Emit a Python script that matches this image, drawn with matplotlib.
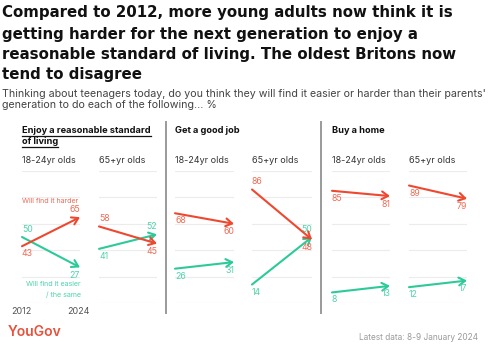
import matplotlib
matplotlib.use("Agg")
import matplotlib.pyplot as plt
from matplotlib.lines import Line2D

# ---------------- data ----------------
title_lines = ["Compared to 2012, more young adults now think it is",
               "getting harder for the next generation to enjoy a",
               "reasonable standard of living. The oldest Britons now",
               "tend to disagree"]
subtitle_lines = ["Thinking about teenagers today, do you think they will find it easier or harder than their parents'",
                  "generation to do each of the following... %"]
panel_titles = ["Enjoy a reasonable standard", "Get a good job", "Buy a home"]
panel_title_2nd = ["of living", "", ""]
groups = ["18-24yr olds", "65+yr olds"]
years = ["2012", "2024"]
harder_2012 = [43, 58, 68, 86, 85, 89]
harder_2024 = [65, 45, 60, 48, 81, 79]
easier_2012 = [50, 41, 26, 14, 8, 12]
easier_2024 = [27, 52, 31, 50, 13, 17]
# label placement (+1 above, -1 below)
harder_start_pos = [-1, 1, -1, 1, -1, -1]
harder_end_pos = [1, -1, -1, -1, -1, -1]
easier_start_pos = [1, -1, -1, -1, -1, -1]
easier_end_pos = [-1, 1, -1, 1, -1, -1]
harder_label = "Will find it harder"
easier_label = ["Will find it easier", "/ the same"]
source = "Latest data: 8-9 January 2024"
brand = "YouGov"

RED = "#F0472F"
RED_T = "#EE6C58"
GREEN = "#2DCA99"
GREEN_T = "#4FD3AC"
GRID = "#ECECEC"

W, H = 488, 352
plt.rcParams['font.family'] = ['Inter', 'DejaVu Sans']
fig = plt.figure(figsize=(W / 100, H / 100), dpi=100)
renderer = fig.canvas.get_renderer()


def fx(x):
    return x / W


def fy(y):
    return 1 - y / H


def fit(t, width_px):
    bb = t.get_window_extent(renderer)
    t.set_fontsize(t.get_fontsize() * width_px / bb.width)
    return t


def text(x, y, s, width=None, size=8, **kw):
    t = fig.text(fx(x), fy(y), s, fontsize=size, **kw)
    if width:
        fit(t, width)
    return t


# title
title_base = [17.5, 38.5, 59, 79.5]
for i, (line, yb) in enumerate(zip(title_lines, title_base)):
    t = text(2, yb, line, size=11, fontweight='bold', va='baseline', color='#111111',
             family=['DejaVu Sans'])
    if i == 0:
        fit(t, 450)
        tsize = t.get_fontsize()
    else:
        t.set_fontsize(tsize)

sub_base = [97, 108]
for i, (line, yb) in enumerate(zip(subtitle_lines, sub_base)):
    t = text(2, yb, line, size=7, va='baseline', color='#444444')
    if i == 0:
        fit(t, 482)
        ssize = t.get_fontsize()
    else:
        t.set_fontsize(ssize)

# axes extents in px
axes_x = [(22, 80), (99, 157), (175, 234), (252, 312), (332, 390), (409, 467)]
y0, y100 = 303, 171
panel_left = [22, 175, 332]

# panel headings
for p in range(3):
    t = text(panel_left[p], 133, panel_titles[p], size=7.5, fontweight='bold',
             va='baseline', color='#111111')
    if p == 0:
        fit(t, 128)
        hsize = t.get_fontsize()
    else:
        t.set_fontsize(hsize)
    if p == 0:
        t2 = text(panel_left[p], 144, panel_title_2nd[p], size=hsize, fontweight='bold',
                  va='baseline', color='#111111')
        for tt, yu in ((t, 135.5), (t2, 146.5)):
            bb = tt.get_window_extent(renderer)
            fig.add_artist(Line2D([bb.x0 / W, bb.x1 / W], [fy(yu), fy(yu)],
                                  color='#111111', lw=0.9))

# separators
for xs in (166, 321):
    fig.add_artist(Line2D([fx(xs), fx(xs)], [fy(122), fy(313)], color='#9A9A9A', lw=1.4))

# group labels
for i, (xl, xr) in enumerate(axes_x):
    t = text(xl, 163, groups[i % 2], size=7.5, va='baseline', color='#333333')
    fit(t, 53 if i % 2 == 0 else 46)

for i, (xl, xr) in enumerate(axes_x):
    ax = fig.add_axes([fx(xl), fy(y0), (xr - xl) / W, (y0 - y100) / H])
    ax.set_xlim(0, 1)
    ax.set_ylim(0, 100)
    ax.axis('off')
    for g in range(0, 101, 20):
        ax.axhline(g, color=GRID, lw=0.8, zorder=0)
    for v0, v1, c, ct, sp, ep in (
            (easier_2012[i], easier_2024[i], GREEN, GREEN_T, easier_start_pos[i], easier_end_pos[i]),
            (harder_2012[i], harder_2024[i], RED, RED_T, harder_start_pos[i], harder_end_pos[i])):
        ax.annotate("", xy=(1, v1), xytext=(0, v0),
                    arrowprops=dict(arrowstyle='->,head_length=0.45,head_width=0.28',
                                    color=c, lw=1.5, shrinkA=0, shrinkB=0),
                    annotation_clip=False)
        ax.annotate(str(v0), xy=(0, v0), xytext=(0, 7.5 * sp),
                    textcoords='offset pixels', ha='left', va='center',
                    fontsize=6.3, color=ct, annotation_clip=False)
        ax.annotate(str(v1), xy=(1, v1), xytext=(0, 8 * ep),
                    textcoords='offset pixels', ha='right', va='center',
                    fontsize=6.3, color=ct, annotation_clip=False)

# series annotations in first panel
t = text(22, 201, harder_label, size=6.5, va='center', color=RED_T)
fit(t, 58)
t = text(81, 284, easier_label[0], size=t.get_fontsize(), va='center', ha='right', color=GREEN_T)
text(81, 295, easier_label[1], size=t.get_fontsize(), va='center', ha='right', color=GREEN_T)

# years
text(21, 311, years[0], size=6.5, va='center', ha='center', color='#555555')
text(78, 311, years[1], size=6.5, va='center', ha='center', color='#555555')

# footer
t = text(8, 332, brand, size=12, va='center', ha='left', color='#E8503A', fontweight='semibold')
fit(t, 54)
t = text(478, 337, source, size=6.5, va='center', ha='right', color='#9A9A9A')
fit(t, 120)

fig.savefig("out.png", dpi=100)
